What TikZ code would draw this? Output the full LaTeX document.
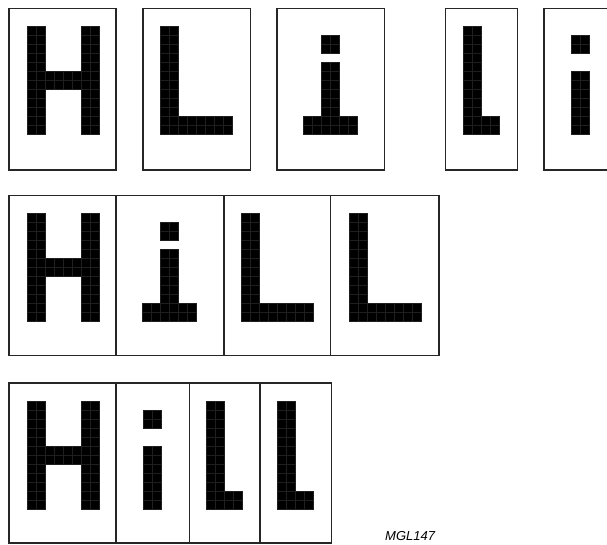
\documentclass[tikz,border=0pt]{standalone}
\usepackage{fontspec}
\setsansfont{Liberation Sans}
\newcommand\pxu{9}
% pixel glyphs: #1 = x origin, #2 = y origin (top-left of 8x12 grid)
\newcommand\glyphHH[2]{%
  \foreach \c in {0,1,6,7} \foreach \r in {0,...,11}
    \path[px] ({#1+\c*\pxu},{#2+\r*\pxu}) rectangle +(\pxu,\pxu);
  \foreach \c in {2,...,5} \foreach \r in {5,6}
    \path[px] ({#1+\c*\pxu},{#2+\r*\pxu}) rectangle +(\pxu,\pxu);}
\newcommand\glyphLL[2]{%
  \foreach \c in {0,1} \foreach \r in {0,...,11}
    \path[px] ({#1+\c*\pxu},{#2+\r*\pxu}) rectangle +(\pxu,\pxu);
  \foreach \c in {2,...,7} \foreach \r in {10,11}
    \path[px] ({#1+\c*\pxu},{#2+\r*\pxu}) rectangle +(\pxu,\pxu);}
\newcommand\glyphII[2]{%
  \foreach \c in {3,4} \foreach \r in {1,2,4,5,6,7,8,9}
    \path[px] ({#1+\c*\pxu},{#2+\r*\pxu}) rectangle +(\pxu,\pxu);
  \foreach \c in {1,...,6} \foreach \r in {10,11}
    \path[px] ({#1+\c*\pxu},{#2+\r*\pxu}) rectangle +(\pxu,\pxu);}
\newcommand\glyphNl[2]{%
  \foreach \c in {0,1} \foreach \r in {0,...,11}
    \path[px] ({#1+\c*\pxu},{#2+\r*\pxu}) rectangle +(\pxu,\pxu);
  \foreach \c in {2,3} \foreach \r in {10,11}
    \path[px] ({#1+\c*\pxu},{#2+\r*\pxu}) rectangle +(\pxu,\pxu);}
\newcommand\glyphNi[2]{%
  \foreach \c in {1,2} \foreach \r in {1,2,5,6,7,8,9,10,11}
    \path[px] ({#1+\c*\pxu},{#2+\r*\pxu}) rectangle +(\pxu,\pxu);}
\begin{document}
\begin{tikzpicture}[x=1pt,y=-1pt,
  frame/.style={draw=black!85, line width=1.3pt},
  px/.style={fill=black, draw=black!88, line width=0.15pt},
  code/.style={font=\sffamily\itshape\fontsize{13}{13}\selectfont, inner sep=0pt, anchor=base west}]
\useasboundingbox (0,0) rectangle (607,544);
\clip (0,0) rectangle (607,544);
% Row 1: H L i   l i
\draw[frame] (9,8.7) rectangle (116,170);
\draw[frame] (143,8.7) rectangle (250.3,170);
\draw[frame] (277,8.7) rectangle (384.3,170);
\draw[frame] (445.7,8.7) rectangle (517.7,170);
\draw[frame] (544,8.7) rectangle (616,170);
\glyphHH{26.7}{26}
\glyphLL{160}{26}
\glyphII{294}{26}
\glyphNl{463.3}{26}
\glyphNi{561.7}{26}
% Row 2: H i L L
\draw[frame] (9,195.7) rectangle (116,355.7);
\draw[frame] (116,195.7) rectangle (224,355.7);
\draw[frame] (224,195.7) rectangle (330.7,355.7);
\draw[frame] (330.7,195.7) rectangle (439,355.7);
\glyphHH{26.7}{213.3}
\glyphII{133}{213.3}
\glyphLL{241}{213.3}
\glyphLL{349}{213.3}
% Row 3: H i l l
\draw[frame] (9,383) rectangle (116,543);
\draw[frame] (116,383) rectangle (189.3,543);
\draw[frame] (189.3,383) rectangle (260,543);
\draw[frame] (260,383) rectangle (331.7,543);
\glyphHH{26.7}{400.7}
\glyphNi{134.3}{400.7}
\glyphNl{205.7}{400.7}
\glyphNl{277.3}{400.7}
\node[code] (label) at (385,540.7) {MGL147};
\end{tikzpicture}
\end{document}
